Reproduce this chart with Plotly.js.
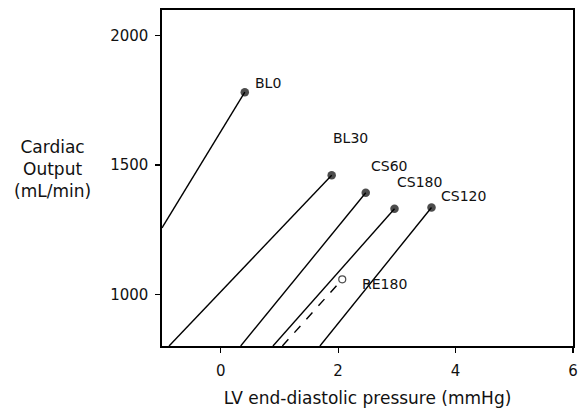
<!DOCTYPE html>
<html>
<head>
<meta charset="utf-8">
<script src="https://cdn.plot.ly/plotly-3.0.1.min.js"></script>
<style>
html,body{margin:0;padding:0;background:#fff;}
#chart{width:587px;height:409px;}
</style>
</head>
<body>
<div id="chart"></div>
<script>
// Data
const names = ["BL0", "BL30", "CS60", "CS180", "CS120", "RE180"];
const endX = [0.41, 1.89, 2.47, 2.96, 3.59, 2.07];
const endY = [1782, 1461, 1393, 1331, 1336, 1058];
const startX = [-1.0, -0.88, 0.34, 0.89, 1.69, 1.05];
const startY = [1257, 800, 800, 800, 800, 800];
const labelX = [0.55, 1.88, 2.52, 2.97, 3.72, 2.37];
const labelY = [1818, 1605, 1496, 1434, 1382, 1040];
const dashed = [false, false, false, false, false, true];
const xTicks = [0, 2, 4, 6];
const yTicks = [1000, 1500, 2000];

const font = "DejaVu Sans, Liberation Sans, Arial, sans-serif";
const traces = names.map((n, i) => ({
  type: "scatter",
  mode: "lines+markers",
  x: [startX[i], endX[i]],
  y: [startY[i], endY[i]],
  line: {color: "#000", width: 1.4, dash: dashed[i] ? "dash" : "solid"},
  marker: {
    size: [0, dashed[i] ? 7 : 8.5],
    color: dashed[i] ? "#fff" : "#000",
    line: {color: "#000", width: dashed[i] ? 1.2 : 0}
  },
  cliponaxis: true,
  hoverinfo: "skip",
  showlegend: false
}));

const annotations = names.map((n, i) => ({
  x: labelX[i], y: labelY[i], xref: "x", yref: "y",
  text: n, showarrow: false, xanchor: "left", yanchor: "middle",
  font: {family: font, size: 14, color: "#111"}
}));
const L = 162, R = 14, T = 10, B = 63, W = 587, H = 409;
annotations.push({
  x: (52 - L) / (W - L - R), y: (H - B - 169) / (H - T - B),
  xref: "paper", yref: "paper", xanchor: "center", yanchor: "middle",
  text: "Cardiac<br>Output<br>(mL/min)", showarrow: false, align: "center",
  font: {family: font, size: 17, color: "#111"}
});

const layout = {
  width: W, height: H,
  margin: {l: L, r: R, t: T, b: B},
  paper_bgcolor: "#fff", plot_bgcolor: "#fff",
  font: {family: font, color: "#111"},
  xaxis: {
    range: [-1, 6], tickvals: xTicks, ticktext: xTicks.map(String),
    ticks: "outside", ticklen: 5, tickwidth: 1.2, tickcolor: "#000",
    showline: true, linecolor: "#000", linewidth: 1.6, mirror: true,
    showgrid: false, zeroline: false, ticklabelstandoff: 5,
    tickfont: {family: font, size: 15, color: "#111"},
    title: {text: "LV end-diastolic pressure (mmHg)", font: {family: font, size: 17, color: "#111"}, standoff: 13}
  },
  yaxis: {
    range: [800, 2100], tickvals: yTicks, ticktext: yTicks.map(String),
    ticks: "outside", ticklen: 5, tickwidth: 1.2, tickcolor: "#000",
    showline: true, linecolor: "#000", linewidth: 1.6, mirror: true,
    showgrid: false, zeroline: false, ticklabelstandoff: 4,
    tickfont: {family: font, size: 15, color: "#111"}
  },
  annotations: annotations
};

Plotly.newPlot("chart", traces, layout, {displayModeBar: false, staticPlot: true});
</script>
</body>
</html>
